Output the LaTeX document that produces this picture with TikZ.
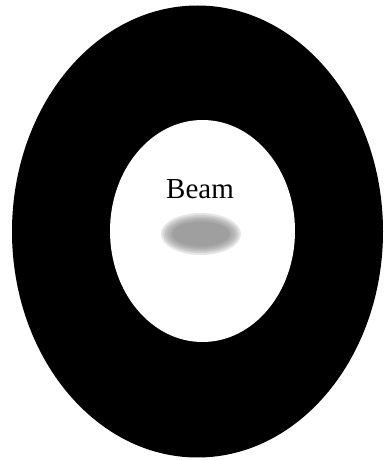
\documentclass[tikz,border=0pt]{standalone}
\usepackage{fontspec}
\setmainfont{Liberation Serif}
\usepackage{tikz}
\usetikzlibrary{positioning}

\begin{document}
\begin{tikzpicture}[x=1pt,y=1pt,
    spot/.style={fill=black!40,opacity=0.25},
    label/.style={font=\fontsize{29}{34}\selectfont,inner sep=0pt}]
    \useasboundingbox (0,0) rectangle (387,461);
    
    % pipe wall and aperture
    \fill[black] (197.5,229.5) ellipse [x radius=185.5,y radius=226];
    \fill[white] (202.5,230) ellipse [x radius=92.5,y radius=111];
    
    % beam spot, blurred
    \coordinate (c) at (201,227);
    \foreach \r/\s in {40/21,38/19,36/17.5,34/16,32/15,30/14}
        \fill[spot] (c) ellipse [x radius=\r,y radius=\s];
    \fill[black!40,opacity=0.6] (c) ellipse [x radius=29,y radius=12.5];
    
    \node[label,anchor=base] (beam) at (200,262) {Beam};

\end{tikzpicture}
\end{document}
